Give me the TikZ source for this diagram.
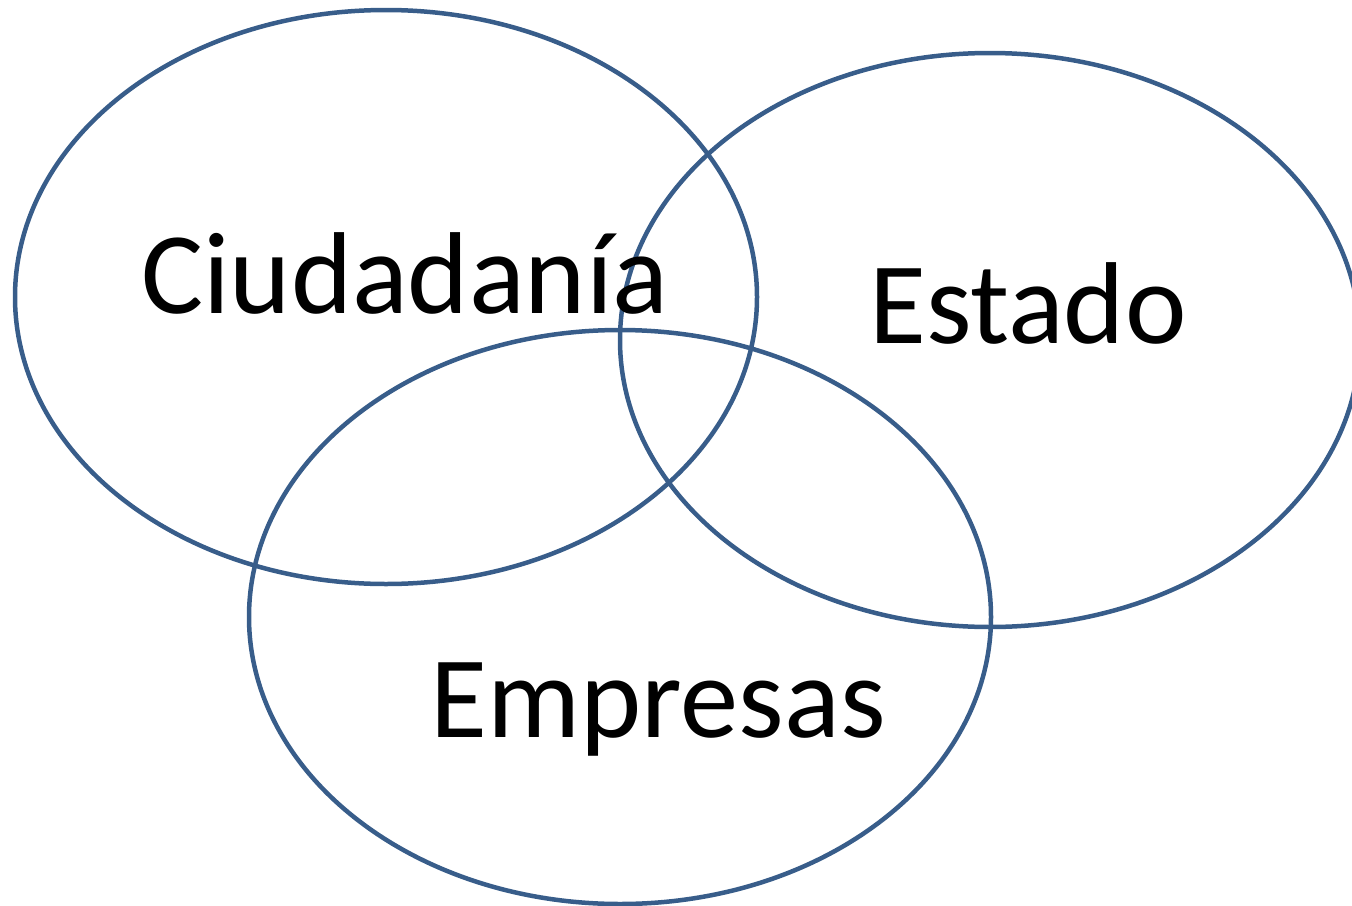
\documentclass[tikz,border=0pt]{standalone}
\usepackage{fontspec}
\setmainfont{Carlito}
\usepackage{xcolor}
\definecolor{vennblue}{HTML}{385D8A}

\begin{document}
\begin{tikzpicture}[x=1pt, y=-1pt]
  \useasboundingbox (0,0) rectangle (1352,905);

  % Draw the three ellipses
  \draw[line width=4.5pt, vennblue] (386, 297) ellipse (371 and 287);  % Ciudadania
  \draw[line width=4.5pt, vennblue] (990, 340) ellipse (370 and 287);  % Estado
  \draw[line width=4.5pt, vennblue] (620, 617) ellipse (371 and 287);  % Empresas

  % Labels for the ellipses
  \node[anchor=base, inner sep=0pt, font=\fontsize{116.5}{116.5}\selectfont] (ciudadania) at (405, 313) {Ciudadanía};
  \node[anchor=base, inner sep=0pt, font=\fontsize{116.5}{116.5}\selectfont] (estado) at (1028, 343) {Estado};
  \node[anchor=base, inner sep=0pt, font=\fontsize{116.5}{116.5}\selectfont] (empresas) at (658, 737) {Empresas};

\end{tikzpicture}
\end{document}
